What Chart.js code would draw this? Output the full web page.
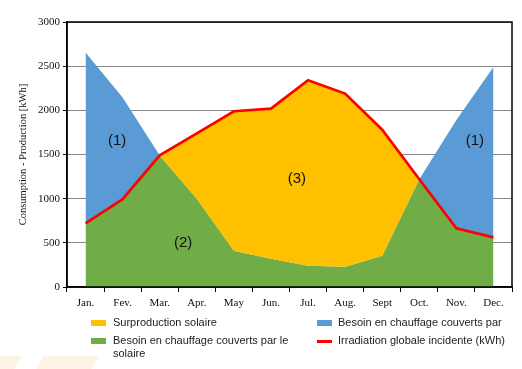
<!DOCTYPE html>
<html><head><meta charset="utf-8">
<script src="https://cdn.jsdelivr.net/npm/chart.js@4.4.0/dist/chart.umd.min.js"></script>
<style>
html,body{margin:0;padding:0;background:#fff;}
#wrap{position:relative;width:522px;height:369px;overflow:hidden;}
canvas{position:absolute;left:0;top:0;}
.lg{position:absolute;font-family:"Liberation Sans",Arial,sans-serif;font-size:11px;color:#222;line-height:13px;}
.sw{position:absolute;width:15px;height:6px;}
.deco{position:absolute;background:#fdf3e3;}
</style></head>
<body><div id="wrap">
<div class="deco" style="left:-6px;top:356px;width:22px;height:20px;transform:skewX(-30deg);"></div>
<div class="deco" style="left:38px;top:356px;width:55px;height:20px;transform:skewX(-30deg);"></div>
<canvas id="c" width="522" height="369"></canvas>
<div class="sw" style="left:91px;top:320px;background:#FFC000"></div>
<div class="lg" style="left:113px;top:316px;">Surproduction solaire</div>
<div class="sw" style="left:91px;top:338px;background:#70AD47"></div>
<div class="lg" style="left:113px;top:334px;width:190px;">Besoin en chauffage couverts par le solaire</div>
<div class="sw" style="left:317px;top:320px;background:#5B9BD5"></div>
<div class="lg" style="left:338px;top:316px;">Besoin en chauffage couverts par</div>
<div class="sw" style="left:317px;top:340px;height:2.5px;background:#FF0000"></div>
<div class="lg" style="left:338px;top:334px;">Irradiation globale incidente (kWh)</div>
</div>
<script>
const months = ['Jan.','Fev.','Mar.','Apr.','May','Jun.','Jul.','Aug.','Sept','Oct.','Nov.','Dec.'];
const irradiation = [720,995,1490,1740,1990,2020,2340,2190,1780,1220,664,562];
const heatingNeed = [2655,2146,1490,1000,410,320,240,230,355,1220,1890,2490];
const heatingCoveredBySolar = [720,995,1490,1000,410,320,240,230,355,1220,664,562];
const yTicks = [0,500,1000,1500,2000,2500,3000];
const areaLabels = [
  {text:'(1)', x:0.85, y:1650},
  {text:'(2)', x:2.63, y:500},
  {text:'(3)', x:5.7, y:1220},
  {text:'(1)', x:10.5, y:1650}
];

const borderPlugin = {
  id:'borderPlugin',
  afterDatasetsDraw(chart){
    const {ctx, chartArea:a, scales} = chart;
    ctx.save();
    ctx.font = '15px "Liberation Sans", Arial, sans-serif';
    ctx.fillStyle = '#111';
    ctx.textAlign = 'center';
    ctx.textBaseline = 'middle';
    areaLabels.forEach(l=>{
      ctx.fillText(l.text, scales.x.getPixelForValue(l.x), scales.y.getPixelForValue(l.y));
    });
    ctx.strokeStyle = '#000';
    ctx.lineWidth = 1.5;
    ctx.strokeRect(a.left, a.top, a.right - a.left, a.bottom - a.top);
    ctx.restore();
  }
};

new Chart(document.getElementById('c'), {
  type:'line',
  data:{
    labels: months,
    datasets:[
      {label:'Besoin en chauffage couverts par le solaire', data:heatingCoveredBySolar, fill:'origin', backgroundColor:'#70AD47', borderWidth:0, pointRadius:0, tension:0, order:3},
      {label:'Surproduction solaire', data:irradiation, fill:0, backgroundColor:'#FFC000', borderWidth:0, pointRadius:0, tension:0, order:2},
      {label:'Besoin en chauffage couverts par', data:heatingNeed, fill:0, backgroundColor:'#5B9BD5', borderWidth:0, pointRadius:0, tension:0, order:1},
      {label:'Irradiation globale incidente (kWh)', data:irradiation, fill:false, borderColor:'#FF0000', borderWidth:2.7, pointRadius:0, tension:0, order:0}
    ]
  },
  options:{
    responsive:false,
    animation:false,
    layout:{padding:{left:17,right:10,top:22,bottom:60}},
    plugins:{legend:{display:false}, tooltip:{enabled:false}},
    scales:{
      x:{
        offset:true,
        grid:{offset:true, drawOnChartArea:false, drawTicks:true, tickLength:5, color:'#000', tickColor:'#000'},
        border:{display:true, color:'#000', width:1.5},
        ticks:{color:'#111', font:{family:'"Liberation Serif", "Times New Roman", serif', size:11}, padding:5, maxRotation:0, autoSkip:false},
        afterFit(s){ s.height = 22; }
      },
      y:{
        min:0, max:3000,
        afterBuildTicks(s){ s.ticks = yTicks.map(v=>({value:v})); },
        grid:{color:'#888', lineWidth:1, tickLength:4, tickColor:'#000'},
        border:{display:true, color:'#000', width:1.5},
        ticks:{color:'#111', font:{family:'"Liberation Serif", "Times New Roman", serif', size:11}, padding:3, callback:(v)=>String(v)},
        title:{display:true, text:'Consumption - Production [kWh]', color:'#111', font:{family:'"Liberation Serif", "Times New Roman", serif', size:10.5}, padding:{top:0,bottom:2}},
        afterFit(s){ s.width = 50; }
      }
    }
  },
  plugins:[borderPlugin]
});
</script>
</body></html>
